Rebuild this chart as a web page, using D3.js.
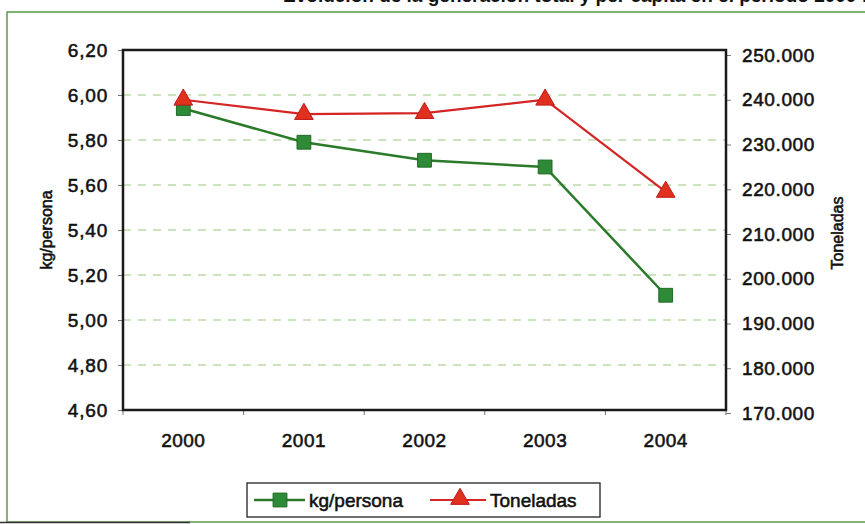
<!DOCTYPE html>
<html><head><meta charset="utf-8">
<script src="https://cdn.jsdelivr.net/npm/d3@7"></script>
<style>
html,body{margin:0;padding:0;background:#fff;}
svg{display:block;font-family:"Liberation Sans",Arial,sans-serif;}
.t{stroke:#111;stroke-width:0.55px;paint-order:stroke;}
</style></head>
<body>
<svg id="c" width="865" height="524"></svg>
<script>
const years = ["2000","2001","2002","2003","2004"];
const kgPersona = [5.94, 5.79, 5.71, 5.68, 5.11];
const toneladas = [240000, 236800, 237000, 240000, 219400];
const leftTicks = [4.6, 4.8, 5.0, 5.2, 5.4, 5.6, 5.8, 6.0, 6.2];
const rightTicks = [170000, 180000, 190000, 200000, 210000, 220000, 230000, 240000, 250000];
const titleText = "Evolución de la generación total y per cápita en el período 2000-2004";
const leftTitle = "kg/persona";
const rightTitle = "Toneladas";

const loc = d3.formatLocale({decimal: ",", thousands: ".", grouping: [3], currency: ["", "€"]});
const fmtL = loc.format(".2f");
const fmtR = loc.format(",d");

const svg = d3.select("#c");
const P = {l: 123, r: 726, t: 50, b: 410};

const x = d3.scaleBand().domain(years).range([P.l, P.r]);
const yL = d3.scaleLinear().domain([4.6, 6.2]).range([P.b, P.t]);
const yR = d3.scaleLinear().domain([170000, 250000]).range([413, 55]);

// outer frame
svg.append("rect").attr("x", 7).attr("y", 12).attr("width", 900).attr("height", 510)
  .attr("fill", "none").attr("stroke", "#5a9a48").attr("stroke-width", 1.5);
svg.append("line").attr("x1", 0).attr("x2", 190).attr("y1", 522.5).attr("y2", 522.5)
  .attr("stroke", "#333").attr("stroke-width", 1.5);

// clipped title (only its lower part is visible, as in the source)
svg.append("text").attr("x", 905).attr("y", 2).attr("text-anchor", "end")
  .attr("font-size", 19).attr("font-weight", "bold").attr("fill", "#111").text(titleText);

// gridlines
svg.append("g").selectAll("line").data(leftTicks.filter(d => d > 4.6 && d < 6.2)).join("line")
  .attr("x1", P.l).attr("x2", P.r)
  .attr("y1", d => yL(d)).attr("y2", d => yL(d))
  .attr("stroke", "#bcdca8").attr("stroke-width", 1.3).attr("stroke-dasharray", "8,7");

// left axis
const axL = svg.append("g").attr("transform", `translate(${P.l},0)`)
  .call(d3.axisLeft(yL).tickValues(leftTicks).tickFormat(fmtL).tickSize(5).tickPadding(10));
axL.select(".domain").remove();
axL.selectAll("line").attr("stroke", "#777");
axL.selectAll("text").attr("class", "t").attr("font-size", 19).attr("fill", "#111").attr("letter-spacing", 0.8);

// right axis
const axR = svg.append("g").attr("transform", `translate(${P.r},0)`)
  .call(d3.axisRight(yR).tickValues(rightTicks).tickFormat(fmtR).tickSize(5).tickPadding(11));
axR.select(".domain").remove();
axR.selectAll("line").attr("stroke", "#777");
axR.selectAll("text").attr("class", "t").attr("font-size", 19).attr("fill", "#111").attr("letter-spacing", 0.6);

// bottom axis
const axB = svg.append("g").attr("transform", `translate(0,${P.b})`)
  .call(d3.axisBottom(x).tickSize(0).tickPadding(24));
axB.select(".domain").remove();
axB.selectAll("text").attr("class", "t").attr("font-size", 19).attr("fill", "#111").attr("letter-spacing", 0.5);
svg.append("g").selectAll("line").data(d3.range(years.length + 1)).join("line")
  .attr("x1", i => P.l + i * x.step()).attr("x2", i => P.l + i * x.step())
  .attr("y1", P.b).attr("y2", P.b + 5).attr("stroke", "#777");

// plot border
svg.append("rect").attr("x", P.l).attr("y", P.t).attr("width", P.r - P.l).attr("height", P.b - P.t)
  .attr("fill", "none").attr("stroke", "#1a1a1a").attr("stroke-width", 2.5);

// axis titles
svg.append("text").attr("class", "t").attr("transform", `translate(52,${(P.t + P.b) / 2}) rotate(-90)`)
  .attr("text-anchor", "middle").attr("font-size", 16).attr("fill", "#111").text(leftTitle);
svg.append("text").attr("class", "t").attr("transform", `translate(843,${(P.t + P.b) / 2 + 3}) rotate(-90)`)
  .attr("text-anchor", "middle").attr("font-size", 16).attr("fill", "#111").text(rightTitle);

const cx = d => x(d) + x.bandwidth() / 2;
const green = "#2a7a2a", greenFill = "#2e8a36", red = "#d42424", redFill = "#e0301e";

// green series
svg.append("path").datum(kgPersona)
  .attr("d", d3.line().x((d, i) => cx(years[i])).y(d => yL(d)))
  .attr("fill", "none").attr("stroke", green).attr("stroke-width", 2.5);
// red series
svg.append("path").datum(toneladas)
  .attr("d", d3.line().x((d, i) => cx(years[i])).y(d => yR(d)))
  .attr("fill", "none").attr("stroke", red).attr("stroke-width", 2.2);

const sq = d3.symbol().type(d3.symbolSquare).size(190);
const tri = d3.symbol().type(d3.symbolTriangle).size(150);

svg.append("g").selectAll("path").data(kgPersona).join("path")
  .attr("transform", (d, i) => `translate(${cx(years[i])},${yL(d)})`)
  .attr("d", sq).attr("fill", greenFill).attr("stroke", "#1f6a22").attr("stroke-width", 1);
svg.append("g").selectAll("path").data(toneladas).join("path")
  .attr("transform", (d, i) => `translate(${cx(years[i])},${yR(d)})`)
  .attr("d", tri).attr("fill", redFill).attr("stroke", "#c01818").attr("stroke-width", 1);

// legend
const lg = svg.append("g");
lg.append("rect").attr("x", 247).attr("y", 483).attr("width", 353).attr("height", 34)
  .attr("fill", "#fff").attr("stroke", "#222").attr("stroke-width", 1.3);
lg.append("line").attr("x1", 254).attr("x2", 305).attr("y1", 500).attr("y2", 500)
  .attr("stroke", green).attr("stroke-width", 2.5);
lg.append("path").attr("transform", "translate(280,500)").attr("d", sq)
  .attr("fill", greenFill).attr("stroke", "#1f6a22");
lg.append("text").attr("class", "t").attr("x", 309).attr("y", 507).attr("font-size", 19).attr("fill", "#111").text(leftTitle);
lg.append("line").attr("x1", 430).attr("x2", 486).attr("y1", 500).attr("y2", 500)
  .attr("stroke", red).attr("stroke-width", 2.2);
lg.append("path").attr("transform", "translate(460,499)").attr("d", tri)
  .attr("fill", redFill).attr("stroke", "#c01818");
lg.append("text").attr("class", "t").attr("x", 490).attr("y", 507).attr("font-size", 19).attr("fill", "#111").text(rightTitle);
</script>
</body></html>
